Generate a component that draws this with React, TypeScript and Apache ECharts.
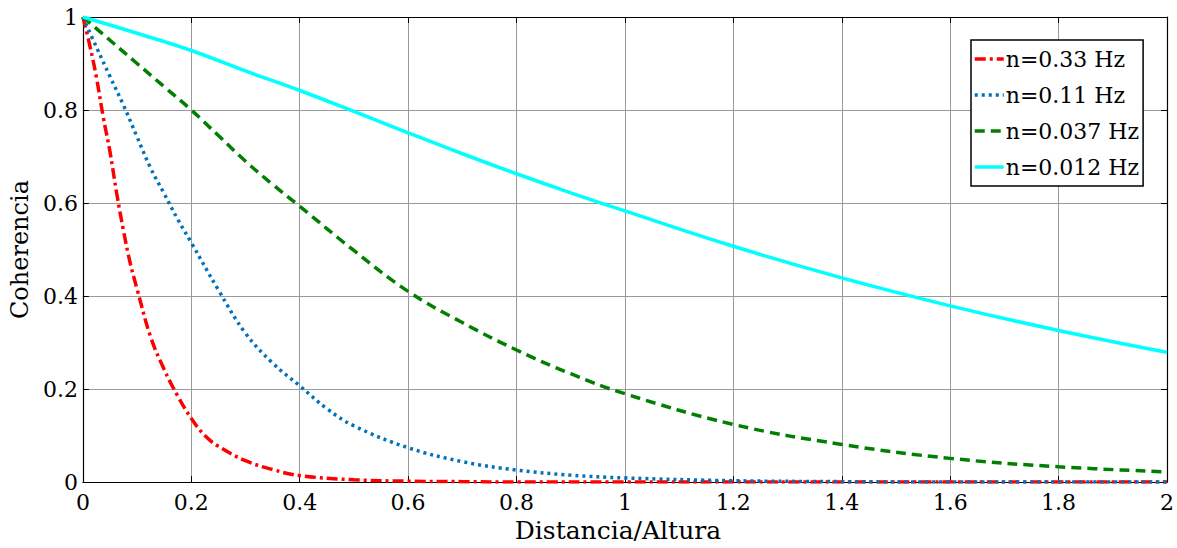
import React, { useEffect, useRef } from "react";
import * as echarts from "echarts";

// Distance / height ratio samples and coherence for each frequency
const distRed = [0, 0.0125, 0.025, 0.0375, 0.05, 0.0625, 0.075, 0.0875, 0.1, 0.125, 0.15, 0.175, 0.2, 0.225, 0.25, 0.3, 0.35, 0.4, 0.5, 0.6, 0.7, 0.8, 1.0, 1.2, 1.4, 1.6, 1.8, 2.0];
const cohRed = [1, 0.94, 0.87, 0.785, 0.71, 0.62, 0.54, 0.47, 0.415, 0.312, 0.242, 0.185, 0.137, 0.1, 0.077, 0.046, 0.027, 0.014, 0.005, 0.002, 0.001, 0, 0, 0, 0, 0, 0, 0];

const distBlue = [0, 0.025, 0.05, 0.075, 0.1, 0.125, 0.15, 0.175, 0.2, 0.25, 0.3, 0.35, 0.4, 0.45, 0.5, 0.6, 0.7, 0.8, 0.9, 1.0, 1.2, 1.4, 1.6, 1.8, 2.0];
const cohBlue = [1, 0.935, 0.872, 0.81, 0.742, 0.675, 0.62, 0.565, 0.515, 0.413, 0.32, 0.256, 0.207, 0.158, 0.121, 0.074, 0.044, 0.026, 0.015, 0.009, 0.003, 0.001, 0, 0, 0];

const distGreen = [0, 0.05, 0.1, 0.15, 0.2, 0.25, 0.3, 0.35, 0.4, 0.5, 0.6, 0.7, 0.8, 0.9, 1.0, 1.2, 1.4, 1.6, 1.8, 2.0];
const cohGreen = [1, 0.95, 0.9, 0.85, 0.8, 0.745, 0.69, 0.64, 0.593, 0.498, 0.41, 0.343, 0.284, 0.233, 0.19, 0.124, 0.081, 0.051, 0.033, 0.022];

const distCyan = [0, 0.1, 0.2, 0.3, 0.4, 0.5, 0.6, 0.7, 0.8, 0.9, 1.0, 1.2, 1.4, 1.6, 1.8, 2.0];
const cohCyan = [1, 0.965, 0.928, 0.884, 0.842, 0.797, 0.751, 0.706, 0.663, 0.622, 0.583, 0.507, 0.439, 0.379, 0.326, 0.279];

const seriesNames = ["n=0.33 Hz", "n=0.11 Hz", "n=0.037 Hz", "n=0.012 Hz"];
const seriesColors = ["#ff0000", "#0072bd", "#007f00", "#00ffff"];
const seriesDash: (number[] | "solid")[] = [[11, 4, 3, 4], [3, 4], [10, 6], "solid"];

const xTitle = "Distancia/Altura";
const yTitle = "Coherencia";

const FONT = "DejaVu Serif";

function pairs(xs: number[], ys: number[]) {
  return xs.map((x, i) => [x, ys[i]]);
}

export default function App() {
  const ref = useRef<HTMLDivElement>(null);

  useEffect(() => {
    if (!ref.current) return;
    const chart = echarts.init(ref.current, null, { renderer: "svg" });

    const datasets = [
      pairs(distRed, cohRed),
      pairs(distBlue, cohBlue),
      pairs(distGreen, cohGreen),
      pairs(distCyan, cohCyan),
    ];

    const axisLine = { show: true, onZero: false, lineStyle: { color: "#000", width: 1.2 } };
    const axisTick = { show: true, inside: true, length: 6, lineStyle: { color: "#000", width: 1 } };
    const grid = { show: true, lineStyle: { color: "#9a9a9a", width: 1 } };

    chart.setOption({
      animation: false,
      backgroundColor: "#fff",
      grid: { left: 82, top: 17, width: 1085, height: 475, containLabel: false },
      xAxis: [
        {
          type: "value",
          min: 0,
          max: 2,
          interval: 0.2,
          position: "bottom",
          axisLine,
          axisTick,
          splitLine: grid,
          axisLabel: { color: "#000", fontFamily: FONT, fontSize: 22, margin: 9 },
          name: xTitle,
          nameLocation: "middle",
          nameGap: 31,
          nameTextStyle: { color: "#000", fontFamily: FONT, fontSize: 25, padding: [0, 14, 0, 0] },
        },
        {
          type: "value",
          min: 0,
          max: 2,
          interval: 0.2,
          position: "top",
          axisLine,
          axisTick,
          splitLine: { show: false },
          axisLabel: { show: false },
        },
      ],
      yAxis: [
        {
          type: "value",
          min: 0,
          max: 1,
          interval: 0.2,
          position: "left",
          axisLine,
          axisTick,
          splitLine: grid,
          axisLabel: { color: "#000", fontFamily: FONT, fontSize: 22, margin: 5 },
          name: yTitle,
          nameLocation: "middle",
          nameGap: 48,
          nameTextStyle: { color: "#000", fontFamily: FONT, fontSize: 24 },
        },
        {
          type: "value",
          min: 0,
          max: 1,
          interval: 0.2,
          position: "right",
          axisLine,
          axisTick,
          splitLine: { show: false },
          axisLabel: { show: false },
        },
      ],
      legend: {
        orient: "vertical",
        left: 971,
        top: 40,
        padding: [8, 4, 8, 2],
        itemGap: 14,
        itemWidth: 29,
        itemHeight: 20,
        backgroundColor: "#fff",
        borderColor: "#000",
        borderWidth: 1.5,
        itemStyle: { opacity: 0 },
        lineStyle: { width: 3.5 },
        textStyle: { color: "#000", fontFamily: FONT, fontSize: 22, padding: [0, 0, 0, -3] },
        data: seriesNames,
      },
      series: seriesNames.map((name, i) => ({
        name,
        type: "line",
        xAxisIndex: 0,
        yAxisIndex: 0,
        data: datasets[i],
        symbol: "none",
        showSymbol: false,
        smooth: 0.4,
        color: seriesColors[i],
        lineStyle: { color: seriesColors[i], width: 3.5, type: seriesDash[i] },
        z: 2 + i,
      })),
    });

    return () => chart.dispose();
  }, []);

  return (
    <div
      ref={ref}
      style={{ position: "absolute", left: 0, top: 0, width: 1177, height: 548 }}
    />
  );
}
